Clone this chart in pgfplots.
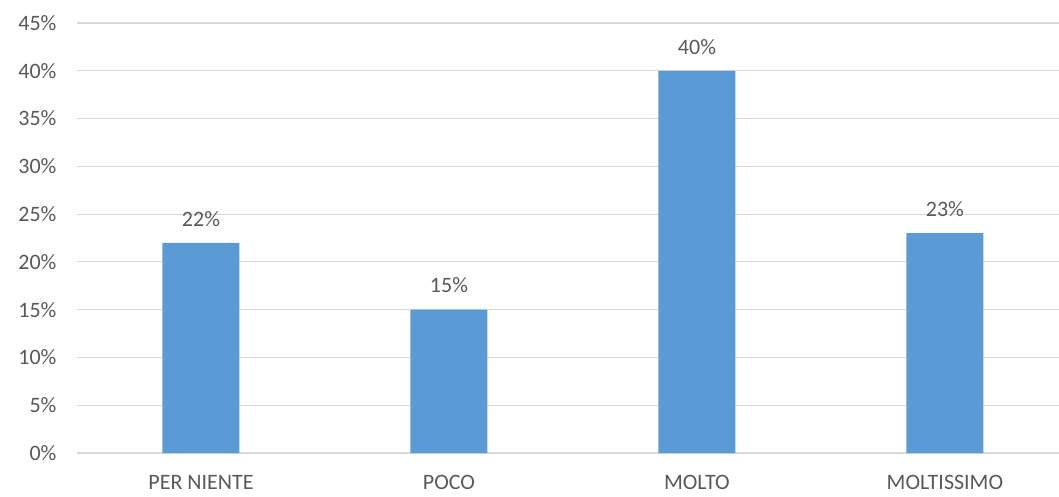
\documentclass[border=0pt]{standalone}
\usepackage{pgfplots}
\pgfplotsset{compat=1.18}
\usepackage{fontspec}
\setmainfont{Carlito}
\definecolor{barblue}{HTML}{5B9BD5}
\definecolor{gridgray}{HTML}{D9D9D9}
\definecolor{txtgray}{HTML}{595959}
\begin{document}
\begin{tikzpicture}
\begin{axis}[
    scale only axis,
    width=982pt, height=430pt,
    ybar, bar width=77pt,
    xmin=-0.5, xmax=3.46,
    ymin=0, ymax=45,
    ytick={0,5,...,45},
    yticklabel={\pgfmathprintnumber{\tick}\%},
    xtick=data,
    xticklabels={PER NIENTE, POCO, MOLTO, MOLTISSIMO},
    ymajorgrids,
    major grid style={gridgray, line width=1.2pt},
    axis line style={draw=none},
    major tick length=0pt,
    ticklabel style={font=\fontsize{22}{26}\selectfont, text=txtgray},
    yticklabel style={xshift=-17pt},
    xticklabel style={yshift=-19pt},
    /pgf/number format/assume math mode=true,
    nodes near coords={\pgfmathprintnumber{\pgfplotspointmeta}\%},
    nodes near coords style={font=\fontsize{22}{26}\selectfont, text=txtgray, yshift=13pt},
]
\addplot[fill=barblue, draw=none] coordinates {(0,22) (1,15) (2,40) (3,23)};
\end{axis}
\pgfresetboundingbox
\path (-77pt,-43pt) rectangle (982pt,453pt);
\end{tikzpicture}
\end{document}
